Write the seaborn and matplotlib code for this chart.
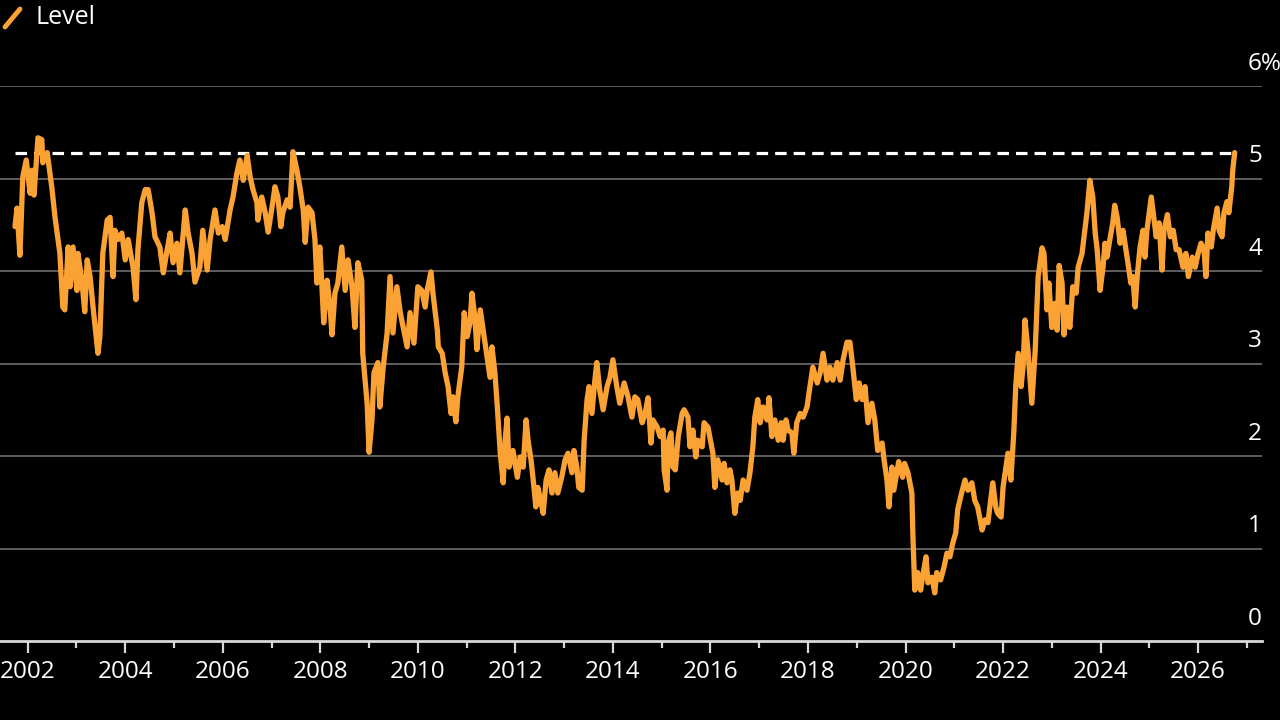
import numpy as np
import pandas as pd
import seaborn as sns
import matplotlib.pyplot as plt
from matplotlib.lines import Line2D
import matplotlib.transforms as mtransforms

# Series values (decimal year, level in %)
years = [
    2001.74, 2001.78, 2001.84, 2001.90, 2001.97, 2002.05, 2002.09, 2002.13, 2002.21, 2002.29,
    2002.31, 2002.40, 2002.50, 2002.56, 2002.66, 2002.72, 2002.76, 2002.83, 2002.87, 2002.93,
    2003.01, 2003.03, 2003.11, 2003.17, 2003.22, 2003.28, 2003.34, 2003.44, 2003.48, 2003.54,
    2003.63, 2003.69, 2003.75, 2003.79, 2003.85, 2003.93, 2004.00, 2004.06, 2004.16, 2004.22,
    2004.26, 2004.34, 2004.41, 2004.47, 2004.55, 2004.61, 2004.71, 2004.78, 2004.86, 2004.92,
    2004.98, 2005.06, 2005.12, 2005.23, 2005.29, 2005.37, 2005.43, 2005.53, 2005.59, 2005.68,
    2005.74, 2005.84, 2005.91, 2005.99, 2006.05, 2006.15, 2006.21, 2006.29, 2006.35, 2006.42,
    2006.50, 2006.56, 2006.62, 2006.70, 2006.72, 2006.80, 2006.87, 2006.93, 2007.01, 2007.07,
    2007.13, 2007.19, 2007.23, 2007.32, 2007.38, 2007.44, 2007.52, 2007.58, 2007.65, 2007.69,
    2007.75, 2007.83, 2007.89, 2007.93, 2007.99, 2008.03, 2008.07, 2008.14, 2008.20, 2008.24,
    2008.30, 2008.36, 2008.44, 2008.51, 2008.57, 2008.65, 2008.71, 2008.77, 2008.85, 2008.87,
    2008.96, 2009.00, 2009.06, 2009.10, 2009.18, 2009.22, 2009.29, 2009.37, 2009.43, 2009.49,
    2009.57, 2009.64, 2009.70, 2009.78, 2009.84, 2009.92, 2010.00, 2010.08, 2010.15, 2010.19,
    2010.27, 2010.31, 2010.40, 2010.42, 2010.50, 2010.56, 2010.62, 2010.68, 2010.72, 2010.78,
    2010.82, 2010.90, 2010.95, 2011.01, 2011.07, 2011.11, 2011.17, 2011.21, 2011.28, 2011.34,
    2011.42, 2011.48, 2011.52, 2011.58, 2011.63, 2011.69, 2011.75, 2011.79, 2011.83, 2011.87,
    2011.95, 2012.04, 2012.10, 2012.16, 2012.22, 2012.26, 2012.32, 2012.36, 2012.42, 2012.46,
    2012.52, 2012.57, 2012.63, 2012.69, 2012.75, 2012.81, 2012.87, 2012.95, 2013.02, 2013.08,
    2013.16, 2013.20, 2013.26, 2013.30, 2013.37, 2013.41, 2013.47, 2013.51, 2013.57, 2013.63,
    2013.67, 2013.73, 2013.80, 2013.88, 2013.94, 2014.00, 2014.08, 2014.14, 2014.23, 2014.31,
    2014.39, 2014.45, 2014.51, 2014.60, 2014.66, 2014.72, 2014.78, 2014.82, 2014.91, 2014.97,
    2015.03, 2015.05, 2015.11, 2015.13, 2015.19, 2015.23, 2015.28, 2015.34, 2015.42, 2015.46,
    2015.54, 2015.58, 2015.64, 2015.70, 2015.74, 2015.83, 2015.87, 2015.95, 2016.01, 2016.05,
    2016.09, 2016.15, 2016.24, 2016.28, 2016.34, 2016.40, 2016.44, 2016.50, 2016.56, 2016.61,
    2016.67, 2016.75, 2016.81, 2016.87, 2016.91, 2016.97, 2017.02, 2017.08, 2017.16, 2017.20,
    2017.26, 2017.32, 2017.39, 2017.45, 2017.49, 2017.55, 2017.59, 2017.67, 2017.71, 2017.77,
    2017.84, 2017.90, 2017.98, 2018.04, 2018.10, 2018.19, 2018.25, 2018.31, 2018.39, 2018.45,
    2018.51, 2018.60, 2018.66, 2018.72, 2018.80, 2018.86, 2018.92, 2018.99, 2019.05, 2019.11,
    2019.17, 2019.23, 2019.31, 2019.37, 2019.43, 2019.52, 2019.56, 2019.62, 2019.66, 2019.72,
    2019.76, 2019.82, 2019.86, 2019.94, 2019.98, 2020.05, 2020.13, 2020.15, 2020.19, 2020.25,
    2020.31, 2020.35, 2020.42, 2020.46, 2020.54, 2020.60, 2020.64, 2020.72, 2020.79, 2020.85,
    2020.91, 2020.97, 2021.03, 2021.07, 2021.15, 2021.22, 2021.28, 2021.36, 2021.42, 2021.48,
    2021.57, 2021.63, 2021.69, 2021.73, 2021.79, 2021.85, 2021.89, 2021.96, 2022.00, 2022.06,
    2022.10, 2022.16, 2022.22, 2022.26, 2022.31, 2022.37, 2022.41, 2022.45, 2022.51, 2022.59,
    2022.66, 2022.72, 2022.80, 2022.84, 2022.90, 2022.94, 2023.00, 2023.06, 2023.11, 2023.15,
    2023.21, 2023.25, 2023.31, 2023.37, 2023.43, 2023.50, 2023.54, 2023.62, 2023.66, 2023.72,
    2023.78, 2023.84, 2023.89, 2023.93, 2023.99, 2024.05, 2024.09, 2024.13, 2024.19, 2024.25,
    2024.29, 2024.34, 2024.40, 2024.46, 2024.52, 2024.56, 2024.62, 2024.66, 2024.71, 2024.75,
    2024.81, 2024.87, 2024.91, 2024.95, 2025.04, 2025.08, 2025.14, 2025.20, 2025.26, 2025.30,
    2025.37, 2025.43, 2025.49, 2025.55, 2025.61, 2025.69, 2025.75, 2025.80, 2025.88, 2025.94,
    2026.00, 2026.06, 2026.12, 2026.16, 2026.20, 2026.27, 2026.31, 2026.39, 2026.43, 2026.49,
    2026.53, 2026.59, 2026.63, 2026.69, 2026.71, 2026.75,
]
level = [
    4.48, 4.68, 4.17, 5.02, 5.20, 4.84, 5.09, 4.82, 5.44, 5.42,
    5.17, 5.28, 4.88, 4.58, 4.19, 3.61, 3.58, 4.26, 3.83, 4.26,
    3.79, 4.19, 3.90, 3.56, 4.12, 3.94, 3.61, 3.11, 3.29, 4.19,
    4.55, 4.58, 3.94, 4.44, 4.34, 4.41, 4.12, 4.34, 4.04, 3.69,
    4.23, 4.74, 4.88, 4.88, 4.63, 4.37, 4.26, 3.98, 4.23, 4.41,
    4.09, 4.30, 3.98, 4.66, 4.41, 4.19, 3.88, 4.04, 4.44, 4.01,
    4.34, 4.66, 4.41, 4.48, 4.34, 4.66, 4.80, 5.06, 5.20, 4.98,
    5.25, 5.02, 4.88, 4.74, 4.55, 4.80, 4.63, 4.42, 4.69, 4.91,
    4.80, 4.48, 4.63, 4.77, 4.69, 5.29, 5.09, 4.91, 4.66, 4.31,
    4.69, 4.63, 4.34, 3.87, 4.26, 3.87, 3.44, 3.90, 3.61, 3.31,
    3.76, 3.87, 4.26, 3.79, 4.12, 3.83, 3.39, 4.09, 3.90, 3.11,
    2.57, 2.04, 2.39, 2.90, 3.01, 2.53, 2.96, 3.33, 3.94, 3.33,
    3.83, 3.55, 3.39, 3.18, 3.55, 3.22, 3.83, 3.79, 3.61, 3.79,
    3.99, 3.76, 3.36, 3.18, 3.11, 2.90, 2.75, 2.46, 2.64, 2.37,
    2.64, 2.96, 3.55, 3.29, 3.44, 3.76, 3.50, 3.15, 3.58, 3.36,
    3.07, 2.85, 3.18, 2.90, 2.53, 2.03, 1.71, 2.17, 2.41, 1.88,
    2.06, 1.77, 1.99, 1.88, 2.39, 2.17, 1.96, 1.77, 1.45, 1.66,
    1.52, 1.38, 1.74, 1.85, 1.60, 1.82, 1.60, 1.77, 1.96, 2.03,
    1.82, 2.06, 1.88, 1.66, 1.63, 2.17, 2.61, 2.75, 2.46, 2.82,
    3.01, 2.71, 2.50, 2.75, 2.85, 3.04, 2.75, 2.57, 2.79, 2.64,
    2.42, 2.64, 2.61, 2.36, 2.46, 2.63, 2.14, 2.39, 2.31, 2.21,
    2.28, 1.85, 1.63, 2.14, 2.25, 1.88, 1.85, 2.21, 2.46, 2.50,
    2.42, 2.10, 2.28, 1.99, 2.17, 2.10, 2.36, 2.31, 2.14, 2.03,
    1.66, 1.96, 1.74, 1.92, 1.71, 1.85, 1.74, 1.38, 1.60, 1.52,
    1.74, 1.63, 1.82, 2.10, 2.42, 2.61, 2.36, 2.53, 2.39, 2.63,
    2.21, 2.39, 2.17, 2.36, 2.17, 2.39, 2.28, 2.25, 2.03, 2.36,
    2.46, 2.42, 2.53, 2.75, 2.96, 2.79, 2.90, 3.11, 2.82, 2.96,
    2.82, 3.01, 2.82, 3.04, 3.23, 3.23, 2.96, 2.61, 2.79, 2.61,
    2.75, 2.36, 2.57, 2.39, 2.06, 2.14, 1.96, 1.74, 1.45, 1.88,
    1.63, 1.82, 1.94, 1.77, 1.92, 1.82, 1.60, 1.17, 0.55, 0.74,
    0.55, 0.69, 0.91, 0.63, 0.69, 0.52, 0.74, 0.66, 0.80, 0.95,
    0.91, 1.06, 1.17, 1.42, 1.60, 1.74, 1.63, 1.71, 1.52, 1.45,
    1.20, 1.31, 1.28, 1.45, 1.71, 1.45, 1.38, 1.34, 1.66, 1.88,
    2.03, 1.74, 2.25, 2.75, 3.11, 2.75, 2.96, 3.47, 3.15, 2.57,
    3.15, 3.94, 4.25, 4.19, 3.58, 3.87, 3.39, 3.65, 3.36, 4.06,
    3.87, 3.31, 3.61, 3.39, 3.83, 3.76, 4.04, 4.19, 4.37, 4.63,
    4.98, 4.80, 4.41, 4.23, 3.79, 4.04, 4.30, 4.15, 4.34, 4.52,
    4.71, 4.58, 4.30, 4.44, 4.23, 4.09, 3.87, 3.94, 3.61, 3.94,
    4.26, 4.44, 4.15, 4.44, 4.80, 4.63, 4.37, 4.52, 4.01, 4.44,
    4.61, 4.37, 4.44, 4.23, 4.23, 4.04, 4.19, 3.94, 4.15, 4.04,
    4.19, 4.30, 4.23, 3.94, 4.41, 4.26, 4.44, 4.68, 4.44, 4.37,
    4.63, 4.75, 4.63, 4.91, 5.09, 5.28,
]
prior_high = 5.28  # dashed reference level
y_ticks = [0, 1, 2, 3, 4, 5, 6]
y_labels = ["0", "1", "2", "3", "4", "5", "6%"]
x_ticks = list(range(2002, 2027, 2))
x_minor = list(range(2003, 2028, 2))

df = pd.DataFrame({"year": years, "level": level})

orange = "#FBA235"
sns.set_theme(style="dark")
plt.rcParams["font.family"] = ["Open Sans", "DejaVu Sans"]

fig = plt.figure(figsize=(12.8, 7.2), dpi=100, facecolor="black")
ax = fig.add_axes([0.0, 79 / 720, 1262 / 1280, 555 / 720])
ax.set_facecolor("black")

# gridlines
for v in y_ticks[1:]:
    ax.axhline(v, color="#5e5e5e", lw=1.4, zorder=1)

# prior-high dashed line
ax.plot([years[0], years[-1]], [prior_high, prior_high], color="white",
        lw=2.3, dashes=(3.6, 2.2), zorder=2)

sns.lineplot(data=df, x="year", y="level", color=orange, lw=3.8, ax=ax,
             zorder=3, estimator=None, sort=False)

ax.set_xlim(2001.432, 2027.31)
ax.set_ylim(0, 6)
ax.set_xlabel("")
ax.set_ylabel("")
ax.grid(False)

for s in ["top", "left", "right"]:
    ax.spines[s].set_visible(False)
ax.spines["bottom"].set_color("#d8d8d8")
ax.spines["bottom"].set_linewidth(2)

ax.set_xticks(x_ticks)
ax.set_xticklabels([str(t) for t in x_ticks])
ax.set_xticks(x_minor, minor=True)
ax.tick_params(axis="x", which="major", length=8.5, width=1.6, color="#d8d8d8",
               labelcolor="white", labelsize=17.5, pad=5, bottom=True)
ax.tick_params(axis="x", which="minor", length=5, width=1.6, color="#d8d8d8",
               bottom=True)
ax.set_yticks([])

# right-hand value labels sitting above each gridline
trans = mtransforms.blended_transform_factory(ax.transAxes, ax.transData)
for v, lab in zip(y_ticks, y_labels):
    ax.text(0.989, v + 0.11, lab, transform=trans, ha="left", va="bottom",
            color="white", fontsize=17.5)

# legend
fig.add_artist(Line2D([5 / 1280, 20 / 1280], [1 - 27 / 720, 1 - 9 / 720],
                      color=orange, lw=3.5, transform=fig.transFigure))
fig.text(36 / 1280, 1 - 18 / 720, "Level", color="white", fontsize=18,
         ha="left", va="center")

fig.savefig("out.png", dpi=100, facecolor="black")
